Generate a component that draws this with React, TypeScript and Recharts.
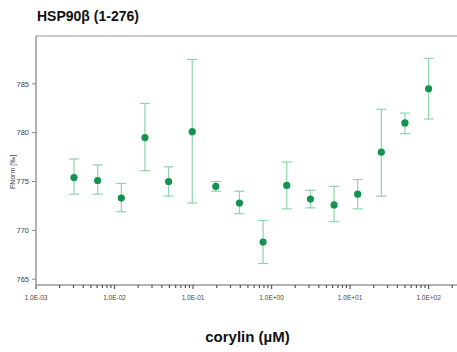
import { ScatterChart, Scatter, XAxis, YAxis, ErrorBar, ReferenceLine } from 'recharts'

// corylin concentration (µM), 2-fold dilution series
const concentrations = [
  0.00305, 0.0061, 0.0122, 0.0244, 0.0488, 0.0977, 0.195, 0.39, 0.78, 1.5625, 3.125, 6.25,
  12.5, 25, 50, 100,
]
const fnorm = [
  775.4, 775.1, 773.3, 779.5, 775.0, 780.1, 774.5, 772.8, 768.8, 774.6, 773.2, 772.6, 773.7,
  778.0, 781.0, 784.5,
]
const errLow = [
  773.7, 773.7, 771.9, 776.1, 773.5, 772.8, 774.0, 771.7, 766.6, 772.2, 772.3, 770.9, 772.2,
  773.5, 779.9, 781.4,
]
const errHigh = [
  777.3, 776.7, 774.8, 783.0, 776.5, 787.5, 775.0, 774.0, 771.0, 777.0, 774.1, 774.5, 775.2,
  782.4, 782.0, 787.6,
]

const decades = [0.001, 0.01, 0.1, 1, 10, 100]
const decadeLabels = ['1.0E-03', '1.0E-02', '1.0E-01', '1.0E+00', '1.0E+01', '1.0E+02']
const yTicks = [765, 770, 775, 780, 785]

const X_MAX = 230
const Y_MIN = 764.4
const Y_MAX = 789.9
const FONT = '"Liberation Sans", Arial, sans-serif'

const data = concentrations.map((c, i) => ({
  x: c,
  y: fnorm[i],
  err: [fnorm[i] - errLow[i], errHigh[i] - fnorm[i]],
}))

const xTicks: number[] = []
decades.forEach((d) => {
  for (let m = 1; m <= 9; m++) {
    const v = d * m
    if (v <= X_MAX) xTicks.push(v)
  }
})

function XTick(props: any) {
  const { x, y, payload } = props
  const idx = decades.findIndex((d) => Math.abs(d - payload.value) < d * 1e-6)
  const major = idx >= 0
  const len = major ? 4 : 3
  return (
    <g>
      <rect x={x - 0.6} y={y} width={1.2} height={len} fill="#555" />
      {major && (
        <text x={x} y={y + 15} textAnchor="middle" fontSize={6.5} fill="#444" fontFamily={FONT}>
          {decadeLabels[idx]}
        </text>
      )}
    </g>
  )
}

function Dot(props: any) {
  return <circle cx={props.cx} cy={props.cy} r={3.6} fill="#13934f" />
}

export default function App() {
  return (
    <div style={{ position: 'absolute', left: 0, top: 0, width: 457, height: 352, background: '#fff', fontFamily: FONT }}>
      <div style={{ position: 'absolute', left: 37, top: 8, fontSize: 14, fontWeight: 'bold', color: '#111' }}>
        HSP90β (1-276)
      </div>
      <div style={{ position: 'absolute', left: 0, width: 457, textAlign: 'center', top: 328, fontSize: 15, fontWeight: 'bold', color: '#111', paddingLeft: 38, boxSizing: 'border-box' }}>
        corylin (µM)
      </div>
      <div
        style={{
          position: 'absolute',
          left: 12,
          top: 172,
          fontSize: 7,
          color: '#444',
          whiteSpace: 'nowrap',
          transform: 'translate(-50%, -50%) rotate(-90deg)',
        }}
      >
        FNorm [‰]
      </div>
      <ScatterChart width={457} height={352} margin={{ top: 36, right: 0, left: 0, bottom: 37 }}>
        <XAxis
          type="number"
          dataKey="x"
          scale="log"
          domain={[0.001, X_MAX]}
          allowDataOverflow
          ticks={xTicks}
          interval={0}
          height={30}
          tickSize={0}
          tickMargin={0}
          tickLine={false}
          tick={<XTick />}
          axisLine={{ stroke: '#999', strokeWidth: 1.5 }}
        />
        <YAxis
          type="number"
          dataKey="y"
          domain={[Y_MIN, Y_MAX]}
          allowDataOverflow
          ticks={yTicks}
          width={36}
          tickSize={4}
          tickMargin={3}
          tick={{ fontSize: 7.5, fill: '#444', fontFamily: FONT }}
          tickLine={{ stroke: '#888' }}
          axisLine={{ stroke: '#999', strokeWidth: 1.5 }}
        />
        <ReferenceLine y={Y_MAX} stroke="#b8b8b8" strokeWidth={1.5} ifOverflow="extendDomain" />
        <Scatter data={data} shape={<Dot />} isAnimationActive={false}>
          <ErrorBar dataKey="err" direction="y" width={5} stroke="#8ed4ad" strokeWidth={1.2} />
        </Scatter>
      </ScatterChart>
    </div>
  )
}
